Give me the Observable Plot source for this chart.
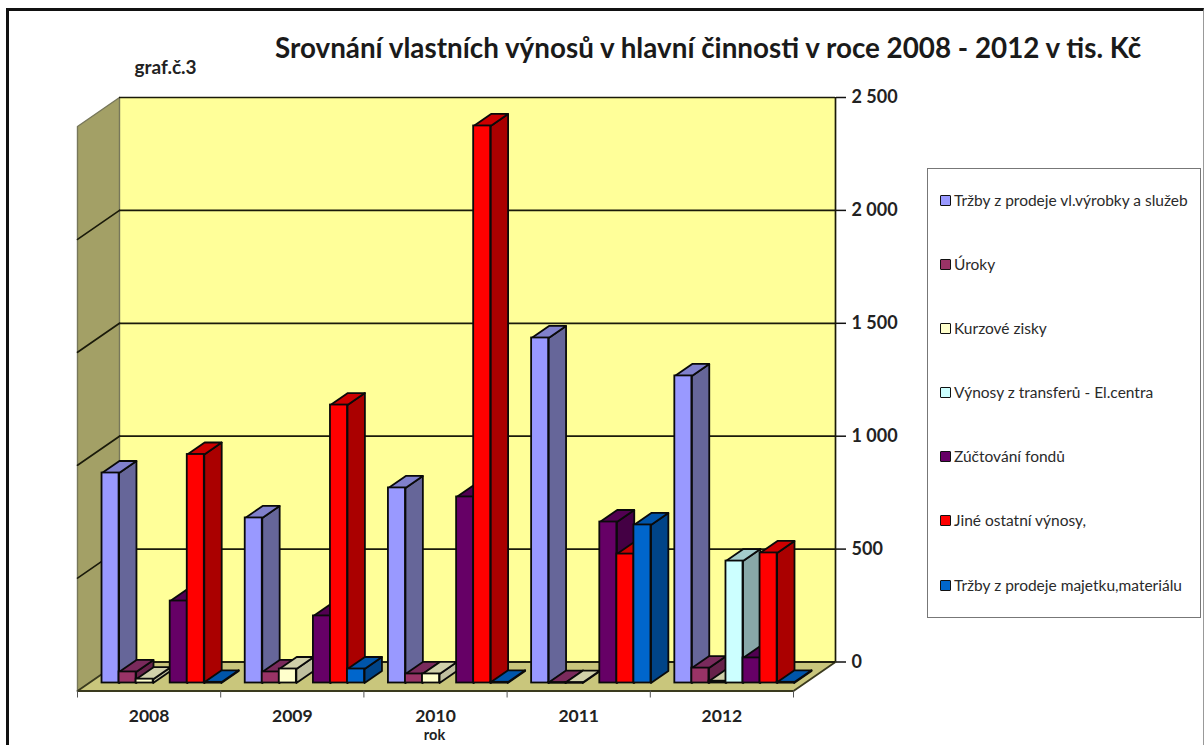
<!DOCTYPE html>
<html><head><meta charset="utf-8">
<script src="https://cdn.jsdelivr.net/npm/d3@7"></script>
<script src="https://cdn.jsdelivr.net/npm/@observablehq/plot@0.6"></script>
<style>
html,body{margin:0;padding:0;background:#fff;overflow:hidden;width:1204px;height:745px;}
#wrap{position:relative;width:1204px;height:745px;overflow:hidden;font-family:Lato,"Open Sans",sans-serif;color:#222;}
#wrap svg{position:absolute;left:0;top:0;}
#border{position:absolute;left:6px;top:8px;width:1198px;height:760px;border:3px solid #111;border-right:1px solid #999;box-sizing:border-box;}
#title{position:absolute;left:275px;top:31px;font-weight:700;font-size:27.8px;white-space:nowrap;color:#1a1a1a;}
#legend{position:absolute;left:927px;top:168px;width:274px;height:450px;box-sizing:border-box;border:1px solid #777;background:#fff;}
.item{position:absolute;left:12px;font-size:15.5px;line-height:18px;white-space:nowrap;color:#2a2a2a;}
.sw{display:inline-block;width:9px;height:9px;border:1.5px solid #111;margin-right:3px;vertical-align:-0.5px;border-radius:1px;}
</style></head><body>
<div id="wrap"><div id="border"></div><div id="title"></div><div id="legend"></div></div>
<script>
const titleText = "Srovnání vlastních výnosů v hlavní činnosti v roce 2008 - 2012 v tis. Kč";
const years = ["2008","2009","2010","2011","2012"];
const seriesNames = ["Tržby z prodeje vl.výrobky a služeb","Úroky","Kurzové zisky","Výnosy z transferů - El.centra","Zúčtování fondů","Jiné ostatní výnosy,","Tržby z prodeje majetku,materiálu"];
const trzby   = [930, 731, 864, 1528, 1360];
const uroky   = [49, 49, 40, 2, 66];
const kurzove = [17, 62, 40, 2, 8];
const transfery = [null, null, null, null, 540];
const fondy   = [363, 297, 824, 713, 111];
const jine    = [1012, 1231, 2467, 571, 576];
const majetek = [3, 62, 3, 700, 3];
const seriesValues = [trzby, uroky, kurzove, transfery, fondy, jine, majetek];
const frontColors = ["#9999ff","#993366","#ffffcc","#ccffff","#660066","#ff0000","#0066cc"];
const sideColors  = ["#666699","#66224a","#bfbf9f","#88a8a8","#440044","#aa0000","#004488"];
const topColors   = ["#8080cc","#7a2a5c","#d0d0aa","#a3cccc","#520052","#cc0000","#0055aa"];
const yTicks = [0, 500, 1000, 1500, 2000, 2500];

// Oblique projection: t=1 lies on the back wall, t=0 on the front edge of the floor.
const depthX = 42 / 143.2, depthY = 29 / 0.2258;
const px = (x, t) => x - (1 - t) * depthX;
const py = (v, t) => v - (1 - t) * depthY;
const barFront = 0.276, barBack = 0.69;
const barWidth = 1 / 8.4, barGap = 0.7 * barWidth + 1 / 143.2;

const polys = [], fronts = [];
const addPoly = (id, fill, pts) => pts.forEach(([x, v, t]) => polys.push({id, fill, x: px(x, t), y: py(v, t)}));
years.forEach((yr, g) => seriesValues.forEach((vals, s) => {
  const v = vals[g];
  if (v == null) return;
  const x1 = g + barGap + s * barWidth, x2 = x1 + barWidth;
  addPoly(`side${g}-${s}`, sideColors[s], [[x2,0,barFront],[x2,v,barFront],[x2,v,barBack],[x2,0,barBack]]);
  addPoly(`top${g}-${s}`, topColors[s], [[x1,v,barFront],[x2,v,barFront],[x2,v,barBack],[x1,v,barBack]]);
  fronts.push({x1: px(x1, barFront), x2: px(x2, barFront), y1: py(0, barFront), y2: py(v, barFront), fill: frontColors[s]});
}));

const wallPts = [[0,0,0],[0,2500,0],[0,2500,1],[0,0,1]].map(([x,v,t]) => ({x: px(x,t), y: py(v,t)}));
const floorPts = [[0,0,0],[5,0,0],[5,0,1],[0,0,1]].map(([x,v,t]) => ({x: px(x,t), y: py(v,t)}));
const wallGrid = yTicks.flatMap(v => [{v, x: px(0,0), y: py(v,0)}, {v, x: px(0,1), y: py(v,1)}]);
const floorDx = -42, floorDy = 29;

const chart = Plot.plot({
  width: 1204, height: 745,
  marginLeft: 119, marginRight: 369, marginTop: 97, marginBottom: 83.5,
  x: {domain: [0, 5]},
  y: {domain: [0, 2500]},
  color: {type: "identity"},
  style: {background: "transparent", fontFamily: "Lato, sans-serif", overflow: "visible"},
  marks: [
    Plot.frame({fill: "#ffff99", stroke: null}),
    Plot.line(wallPts, {x: "x", y: "y", fill: "#a3a066", stroke: "#77775a", strokeWidth: 1.4, curve: "linear-closed"}),
    Plot.line(floorPts, {x: "x", y: "y", fill: "#c9c67c", stroke: "#3a3a1e", strokeWidth: 1.8, curve: "linear-closed"}),
    Plot.ruleY(yTicks, {x1: 0, x2: 5, stroke: "#1a1a0a", strokeWidth: 1.7}),
    Plot.line(wallGrid.filter(d => d.v > 0 && d.v < 2500), {x: "x", y: "y", z: "v", stroke: "#1a1a0a", strokeWidth: 1.7}),
    Plot.ruleX([5], {y1: 0, y2: 2500, stroke: "#1a1a0a", strokeWidth: 1.7}),
    Plot.line(polys, {x: "x", y: "y", z: "id", fill: "fill", stroke: "#0a0a0a", strokeWidth: 1.8, curve: "linear-closed"}),
    Plot.rect(fronts, {x1: "x1", x2: "x2", y1: "y1", y2: "y2", fill: "fill", stroke: "#0a0a0a", strokeWidth: 1.8}),
    Plot.axisY(yTicks, {anchor: "right", tickSize: 10, tickPadding: 6, label: null, tickFormat: v => d3.format(",")(v).replace(/,/g, " "),
      fontSize: 18, fontWeight: 700, fill: "#222", stroke: "#111", strokeWidth: 1.5, textStroke: "none"}),
    Plot.axisX([0,1,2,3,4,5], {anchor: "bottom", tickSize: 7, tickFormat: () => "", label: null, dx: floorDx, dy: floorDy, stroke: "#555"}),
    Plot.text(years, {x: (d, i) => i + 0.5, y: 0, text: d => d, dx: floorDx, dy: 54.5, fontSize: 17.5, fontWeight: 700, fill: "#222"}),
    Plot.text(["rok"], {x: 2.5, y: 0, dx: floorDx - 1, dy: 73, fontSize: 14.5, fontWeight: 700, fill: "#222"}),
    Plot.text(["graf.č.3"], {x: 0, y: 2500, dx: 15, dy: -30, textAnchor: "start", fontSize: 19, fontWeight: 700, fill: "#222"})
  ]
});
document.getElementById("wrap").insertBefore(chart, document.getElementById("border"));
document.getElementById("title").textContent = titleText;

const legendYs = [30.5, 94.5, 158.5, 222.5, 286.5, 350.5, 415.5];
const legend = document.getElementById("legend");
seriesNames.forEach((name, i) => {
  const d = document.createElement("div");
  d.className = "item";
  d.style.top = (legendYs[i] - 9) + "px";
  const sw = document.createElement("span");
  sw.className = "sw"; sw.style.background = frontColors[i];
  d.appendChild(sw); d.appendChild(document.createTextNode(name));
  legend.appendChild(d);
});
</script>
</body></html>
